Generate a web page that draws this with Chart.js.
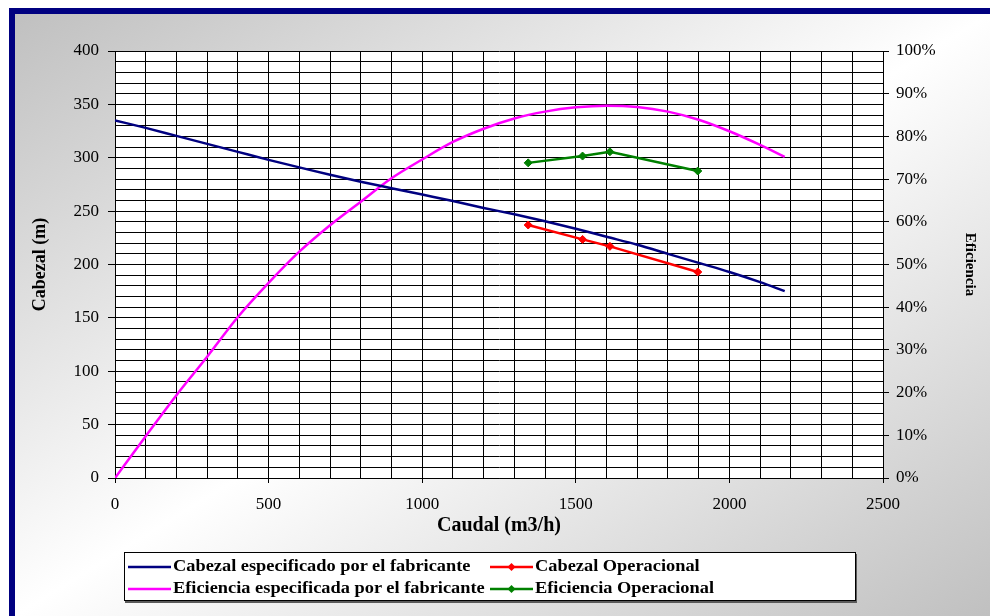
<!DOCTYPE html>
<html>
<head>
<meta charset="utf-8">
<script src="https://cdn.jsdelivr.net/npm/chart.js@4.4.1/dist/chart.umd.min.js"></script>
<style>
  html, body { margin: 0; padding: 0; background: #ffffff; width: 990px; height: 616px; overflow: hidden; }
  #frame {
    position: absolute; left: 9px; top: 8px; width: 981px; height: 608px;
    border-left: 6px solid #000080; border-top: 6px solid #000080; box-sizing: border-box;
    background: linear-gradient(to bottom right, #c0c0c0 0%, #ffffff 50%, #c0c0c0 100%);
  }
  #chart { position: absolute; left: 0; top: 0; }
  #legend {
    position: absolute; left: 124px; top: 552px; width: 732px; height: 49px;
    background: #ffffff; border: 1px solid #000; box-sizing: border-box;
    box-shadow: 1px 2px 0 #5a5a5a;
    font-family: "Liberation Serif", "Times New Roman", serif; font-weight: bold; font-size: 17px; color: #000;
  }
  .item { position: absolute; height: 22px; line-height: 22px; white-space: nowrap; }
  .item svg { position: absolute; left: 0; top: 0; }
  .item span { position: absolute; top: 0; transform: scaleX(1.08); transform-origin: 0 50%; }
</style>
</head>
<body>
<div id="frame"></div>
<canvas id="chart" width="990" height="616"></canvas>
<div id="legend"></div>
<script>
// ---- Data ----
const caudalFabricante = [0, 100, 200, 300, 400, 500, 600, 700, 800, 900, 1000, 1100, 1200, 1300, 1400, 1500, 1600, 1700, 1800, 1900, 2000, 2100, 2180];
const cabezalFabricante = [335, 328, 320.5, 313, 305.5, 298, 291, 284, 277.5, 271.5, 265.5, 259.5, 253, 247, 240.5, 233.5, 226, 218.5, 210, 201.5, 193, 183.5, 175];
const eficienciaFabricante = [0, 9.8, 19.4, 28.4, 37.7, 45.7, 53, 59.2, 64.7, 70.2, 74.6, 78.7, 81.8, 84.2, 85.8, 86.8, 87.2, 86.9, 85.8, 83.9, 81.2, 78, 75.2];
const caudalOperacional = [1345, 1522, 1611, 1897];
const cabezalOperacional = [237, 223.5, 217, 193];
const eficienciaOperacional = [73.8, 75.4, 76.4, 71.9];
// Tick labels
const xTickLabels = [0, 500, 1000, 1500, 2000, 2500];
const yLeftTickLabels = [0, 50, 100, 150, 200, 250, 300, 350, 400];
const yRightTickLabels = [0, 10, 20, 30, 40, 50, 60, 70, 80, 90, 100];
const seriesNames = [
  "Cabezal especificado por el fabricante",
  "Cabezal Operacional",
  "Eficiencia especificada por el fabricante",
  "Eficiencia Operacional"
];
const seriesColors = ["#000080", "#ff0000", "#ff00ff", "#008000"];

function pts(xs, ys) { return xs.map((x, i) => ({ x: x, y: ys[i] })); }

const serif = "'Liberation Serif', 'Times New Roman', serif";
const tickFont = { family: serif, size: 17 };

const plotBg = {
  id: 'plotBg',
  beforeDraw(chart) {
    const a = chart.chartArea, c = chart.ctx;
    c.save(); c.fillStyle = '#ffffff';
    c.fillRect(a.left, a.top, a.right - a.left, a.bottom - a.top);
    c.restore();
  }
};

new Chart(document.getElementById('chart'), {
  type: 'line',
  data: {
    datasets: [
      { label: seriesNames[0], data: pts(caudalFabricante, cabezalFabricante), yAxisID: 'y',
        borderColor: seriesColors[0], borderWidth: 2.5, pointRadius: 0, cubicInterpolationMode: 'monotone', order: 3 },
      { label: seriesNames[2], data: pts(caudalFabricante, eficienciaFabricante), yAxisID: 'y1',
        borderColor: seriesColors[2], borderWidth: 2.5, pointRadius: 0, cubicInterpolationMode: 'monotone', order: 4 },
      { label: seriesNames[1], data: pts(caudalOperacional, cabezalOperacional), yAxisID: 'y',
        borderColor: seriesColors[1], backgroundColor: seriesColors[1], borderWidth: 2.5,
        pointStyle: 'rectRot', pointRadius: 4, pointBorderWidth: 1, tension: 0, order: 1 },
      { label: seriesNames[3], data: pts(caudalOperacional, eficienciaOperacional), yAxisID: 'y1',
        borderColor: seriesColors[3], backgroundColor: seriesColors[3], borderWidth: 2.5,
        pointStyle: 'rectRot', pointRadius: 4, pointBorderWidth: 1, tension: 0, order: 2 }
    ]
  },
  options: {
    responsive: false,
    devicePixelRatio: 1,
    animation: false,
    layout: { padding: { left: 15, top: 51, right: 0, bottom: 78 } },
    plugins: { legend: { display: false }, tooltip: { enabled: false } },
    scales: {
      x: {
        type: 'linear', position: 'bottom', min: 0, max: 2500,
        afterFit: (s) => { s.height = 60; },
        ticks: {
          stepSize: 100, autoSkip: false, maxRotation: 0, padding: 11, color: '#000', font: tickFont,
          callback: (v) => xTickLabels.includes(v) ? String(v) : ''
        },
        grid: {
          color: '#000', lineWidth: 1, tickLength: 5,
          tickColor: (ctx) => (ctx.tick && xTickLabels.includes(ctx.tick.value)) ? '#000' : 'rgba(0,0,0,0)'
        },
        border: { color: '#000', width: 1 },
        title: { display: true, text: 'Caudal (m3/h)', color: '#000',
                 font: { family: serif, size: 20, weight: 'bold' }, padding: { top: 0, bottom: 0 } }
      },
      y: {
        type: 'linear', position: 'left', min: 0, max: 400,
        afterFit: (s) => { s.width = 100; },
        ticks: {
          stepSize: 10, autoSkip: false, padding: 9, color: '#000', font: tickFont,
          callback: (v) => yLeftTickLabels.includes(v) ? String(v) : ''
        },
        grid: {
          color: '#000', lineWidth: 1, tickLength: 7,
          tickColor: (ctx) => (ctx.tick && yLeftTickLabels.includes(ctx.tick.value)) ? '#000' : 'rgba(0,0,0,0)'
        },
        border: { color: '#000', width: 1 },
        title: { display: true, text: 'Cabezal (m)', color: '#000',
                 font: { family: serif, size: 18, weight: 'bold' }, padding: { top: 15, bottom: 0 } }
      },
      y1: {
        type: 'linear', position: 'right', min: 0, max: 100,
        afterFit: (s) => { s.width = 107; },
        ticks: {
          stepSize: 10, autoSkip: false, padding: 7, color: '#000', font: tickFont,
          callback: (v) => yRightTickLabels.includes(v) ? v + '%' : ''
        },
        grid: { drawOnChartArea: false, color: '#000', tickColor: '#000', tickLength: 6 },
        border: { color: '#000', width: 1 },
        title: { display: true, text: 'Eficiencia', color: '#000',
                 font: { family: serif, size: 15, weight: 'bold' }, padding: { top: 11, bottom: 0 } }
      }
    }
  },
  plugins: [plotBg]
});

// ---- HTML legend (2 columns, like the original) ----
const legendLayout = [
  { idx: 0, left: 3, top: 2, marker: false },
  { idx: 1, left: 365, top: 2, marker: true },
  { idx: 2, left: 3, top: 24, marker: false },
  { idx: 3, left: 365, top: 24, marker: true }
];
const legendEl = document.getElementById('legend');
legendLayout.forEach(it => {
  const d = document.createElement('div');
  d.className = 'item';
  d.style.left = it.left + 'px';
  d.style.top = it.top + 'px';
  const col = seriesColors[it.idx];
  let svg = '<svg width="46" height="22"><line x1="0" y1="12" x2="43" y2="12" stroke="' + col + '" stroke-width="2.5"/>';
  if (it.marker) svg += '<polygon points="21.5,8 25.5,12 21.5,16 17.5,12" fill="' + col + '"/>';
  svg += '</svg>';
  d.innerHTML = svg + '<span style="left:45px">' + seriesNames[it.idx] + '</span>';
  legendEl.appendChild(d);
});
</script>
</body>
</html>
